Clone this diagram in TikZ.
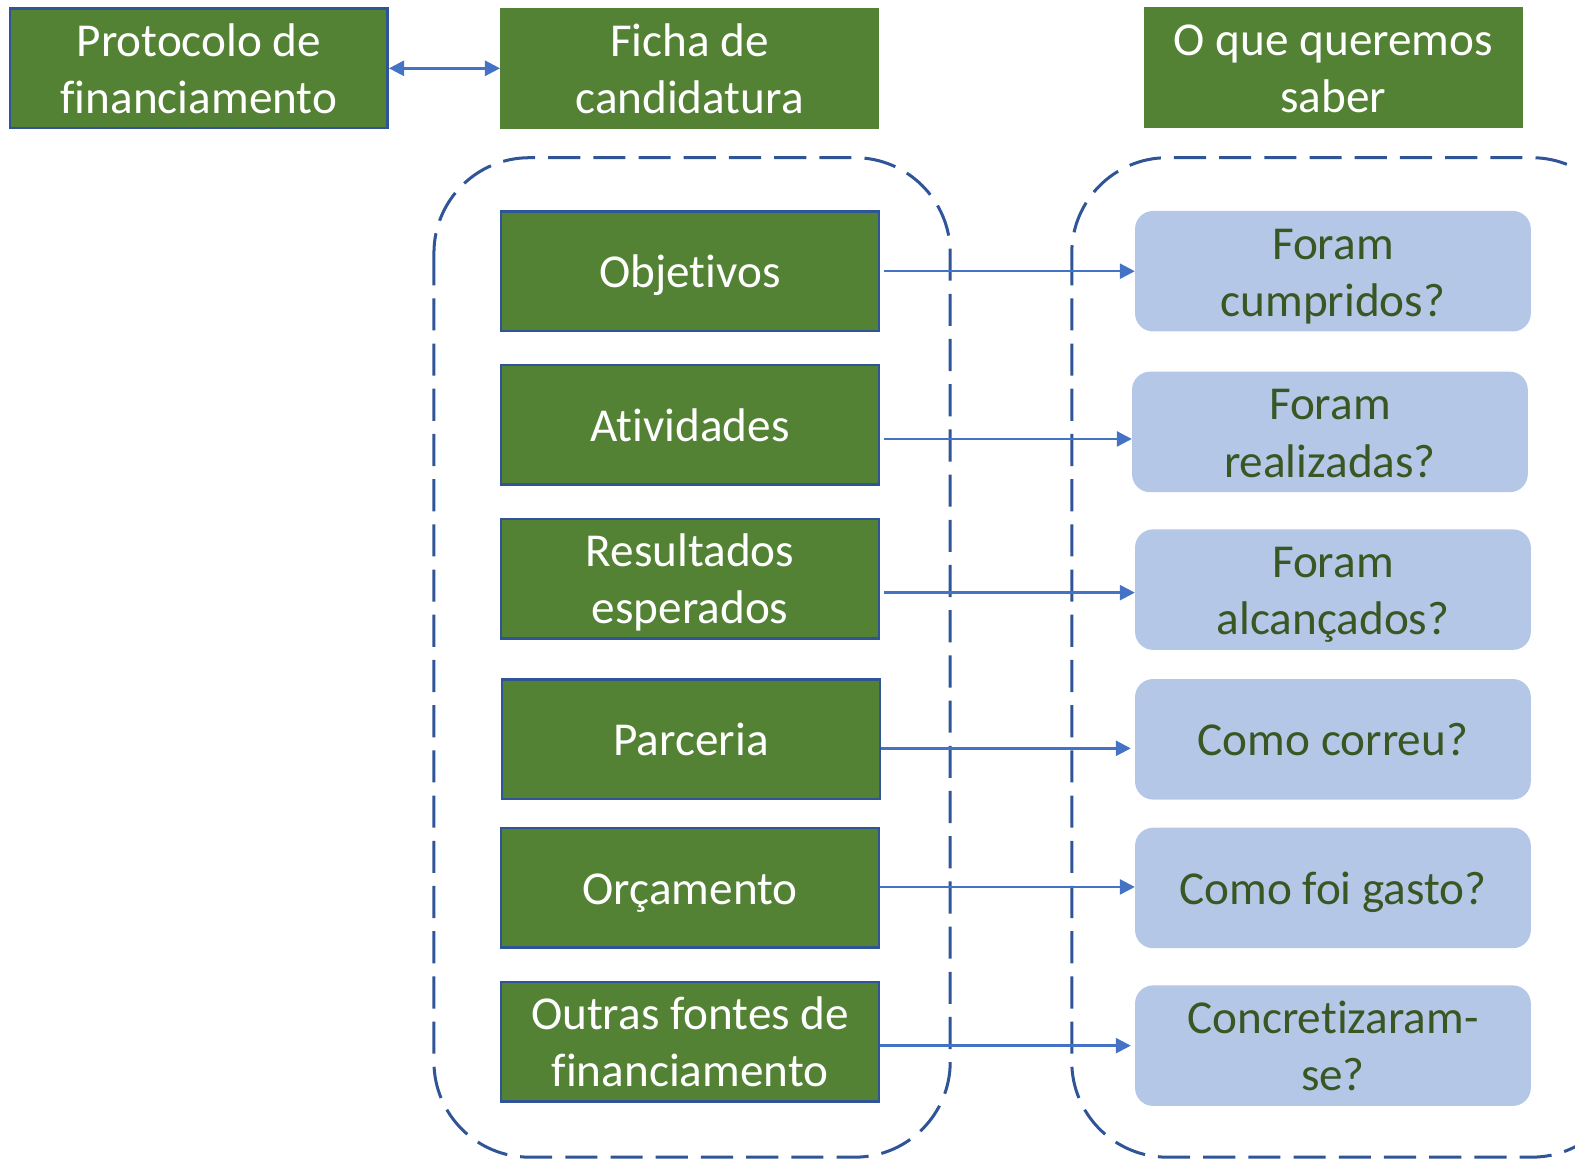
\documentclass[tikz,border=0pt]{standalone}
\usepackage{fontspec}
\setmainfont{Carlito}[Ligatures=NoCommon]
\usetikzlibrary{arrows.meta}
\definecolor{gfill}{HTML}{548235}
\definecolor{bborder}{HTML}{2F5597}
\definecolor{arrowc}{HTML}{4472C4}
\definecolor{lblue}{HTML}{B4C7E7}
\definecolor{dgreen}{HTML}{385723}
\newcommand\strA{\rule{0pt}{47bp}}
\newcommand\strB{\rule[-14bp]{0pt}{14bp}}
\begin{document}
\begin{tikzpicture}[x=1bp,y=-1bp,
  txt/.style={font=\fontsize{47bp}{57bp}\selectfont, align=center},
  gbox/.style={txt, fill=gfill, draw=bborder, line width=2.5bp, text=white, minimum width=376bp, minimum height=119bp, inner sep=0pt},
  hbox/.style={txt, fill=gfill, text=white, minimum width=377bp, minimum height=120bp, inner sep=0pt},
  qbox/.style={txt, fill=lblue, rounded corners=18bp, text=dgreen, minimum width=394bp, minimum height=120bp, inner sep=0pt},
  conn/.style={draw=arrowc, line width=2.5bp, -{Triangle[length=15bp,width=15bp]}},
  frame/.style={draw=bborder, line width=3bp, dash pattern=on 32bp off 13bp, rounded corners=95bp}]
\useasboundingbox (0,0) rectangle (1568,1154);
\clip (0,0) rectangle (1568,1154);
% header boxes
\node[gbox] (prot) at (198,68) {\strA Protocolo de\\financiamento\strB};
\node[hbox] (ficha) at (686.5,68) {\strA Ficha de\\candidatura\strB};
\node[hbox] (quer) at (1327.5,67) {\strA O que queremos\\saber\strB};
\draw[draw=arrowc, line width=2.5bp, {Triangle[length=15bp,width=15bp]}-{Triangle[length=15bp,width=15bp]}] (prot.east) -- (ficha.west);
% dashed frames
\draw[frame] (432,157) rectangle (946,1152);
\draw[frame] (1067,157) rectangle (1620,1152);
% left column
\node[gbox] (obj) at (687,270) {\strA Objetivos\strB};
\node[gbox] (ativ) at (687,423) {\strA Atividades\strB};
\node[gbox] (res) at (687,576) {\strA Resultados\\esperados\strB};
\node[gbox] (parc) at (688,736) {\strA Parceria\strB};
\node[gbox] (orc) at (687,884) {\strA Orçamento\strB};
\node[gbox] (outr) at (687,1037) {\strA Outras fontes de\\financiamento\strB};
% right column
\node[qbox] (q1) at (1327,270) {\strA Foram\\cumpridos?\strB};
\node[qbox] (q2) at (1324,430) {\strA Foram\\realizadas?\strB};
\node[qbox] (q3) at (1327,587) {\strA Foram\\alcançados?\strB};
\node[qbox] (q4) at (1327,736) {\strA Como correu?\strB};
\node[qbox] (q5) at (1327,884) {\strA Como foi gasto?\strB};
\node[qbox] (q6) at (1327,1041) {\strA Concretizaram-\\se?\strB};
% connectors
\draw[conn] ([xshift=4bp]obj.east |- 0,270) -- (q1.west |- 0,270);
\draw[conn] ([xshift=4bp]ativ.east |- 0,437) -- (q2.west |- 0,437);
\draw[conn] ([xshift=4bp]res.east |- 0,590) -- (q3.west |- 0,590);
\draw[conn] (parc.east |- 0,745) -- ([xshift=-4bp]q4.west |- 0,745);
\draw[conn] (orc.east |- 0,883) -- (q5.west |- 0,883);
\draw[conn] (outr.east |- 0,1041) -- ([xshift=-4bp]q6.west |- 0,1041);
\end{tikzpicture}
\end{document}
